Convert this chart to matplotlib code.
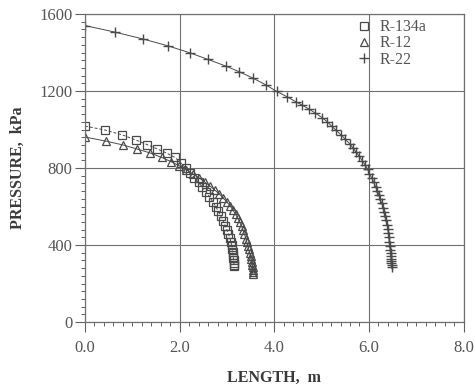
import matplotlib
matplotlib.use('Agg')
import matplotlib.pyplot as plt
from matplotlib.ticker import MultipleLocator, FormatStrFormatter

# R-134a (squares)
len_134a = [0.00, 0.43, 0.79, 1.07, 1.32, 1.53, 1.73, 1.90, 2.02, 2.13, 2.22, 2.31,
            2.40, 2.48, 2.56, 2.63, 2.70, 2.76, 2.82, 2.87, 2.92, 2.96, 3.00, 3.03,
            3.06, 3.08, 3.10, 3.11, 3.12, 3.13, 3.135, 3.14, 3.145, 3.15, 3.15]
p_134a = [1018, 997, 972, 946, 921, 899, 877, 855, 828, 800, 775, 750,
          725, 700, 675, 650, 625, 600, 575, 550, 525, 500, 478, 458,
          438, 418, 398, 380, 362, 346, 332, 320, 308, 298, 290]

# R-12 (triangles)
len_12 = [0.00, 0.44, 0.80, 1.10, 1.38, 1.62, 1.82, 1.99, 2.14, 2.28, 2.41, 2.53,
          2.64, 2.74, 2.84, 2.92, 3.00, 3.07, 3.13, 3.18, 3.23, 3.27, 3.31, 3.34,
          3.37, 3.40, 3.42, 3.44, 3.46, 3.48, 3.50, 3.51, 3.52, 3.53, 3.54, 3.545,
          3.55, 3.55]
p_12 = [961, 940, 920, 899, 878, 855, 833, 812, 791, 770, 749, 728,
        707, 686, 665, 644, 623, 602, 581, 560, 539, 518, 497, 476,
        455, 434, 414, 396, 378, 360, 343, 327, 312, 298, 285, 273,
        262, 252]

# R-22 (plus)
len_22 = [0.00, 0.63, 1.23, 1.76, 2.22, 2.60, 2.97, 3.26, 3.55, 3.82, 4.05, 4.27,
          4.45, 4.58, 4.74, 4.87, 5.01, 5.12, 5.21, 5.31, 5.41, 5.50, 5.59, 5.66,
          5.73, 5.80, 5.86, 5.92, 5.97, 6.01, 6.06, 6.10, 6.14, 6.18, 6.21, 6.24,
          6.27, 6.30, 6.32, 6.34, 6.36, 6.38, 6.40, 6.41, 6.42, 6.43, 6.44, 6.45,
          6.46, 6.465, 6.47, 6.47, 6.475, 6.48, 6.48]
p_22 = [1540, 1506, 1470, 1434, 1398, 1364, 1330, 1300, 1267, 1232, 1198, 1170,
        1145, 1128, 1105, 1085, 1062, 1040, 1018, 995, 972, 950, 927, 905,
        882, 860, 838, 815, 793, 770, 748, 726, 704, 682, 660, 638,
        616, 594, 572, 550, 528, 506, 484, 462, 440, 418, 396, 376,
        358, 342, 328, 316, 305, 296, 288]

plt.rcParams['font.family'] = ['Liberation Serif', 'DejaVu Serif']

fig = plt.figure(figsize=(4.75, 3.89), dpi=100)
ax = fig.add_axes([0.179, 0.172, 0.797, 0.792])

mc = '#4a4a4a'
ax.plot(len_134a, p_134a, color=mc, lw=0.7, ls=(0, (3, 2)), marker='s', ms=5.5,
        mfc='none', mec=mc, mew=0.9, label='R-134a')
ax.plot(len_12, p_12, color=mc, lw=0.7, marker='^', ms=5.5,
        mfc='none', mec=mc, mew=0.9, label='R-12')
ax.plot(len_22, p_22, color=mc, lw=0.7, marker='+', ms=7,
        mec=mc, mew=1.0, label='R-22')

ax.set_xlim(0, 8)
ax.set_ylim(0, 1600)
ax.xaxis.set_major_locator(MultipleLocator(2))
ax.xaxis.set_minor_locator(MultipleLocator(0.2))
ax.yaxis.set_major_locator(MultipleLocator(400))
ax.yaxis.set_minor_locator(MultipleLocator(40))
ax.xaxis.set_major_formatter(FormatStrFormatter('%.1f'))

ax.grid(True, which='major', color='#707070', lw=0.8)
ax.tick_params(which='major', direction='out', length=7, width=0.8,
               color='#606060', labelcolor='#555555', labelsize=12)
ax.tick_params(which='minor', direction='out', length=3, width=0.7, color='#606060')
ax.tick_params(axis='x', pad=6)
ax.tick_params(axis='y', pad=2)
for s in ax.spines.values():
    s.set_color('#707070')
    s.set_linewidth(0.9)

ax.set_xlabel('LENGTH,  m', fontsize=11.5, fontweight='bold', color='#3a3a3a', labelpad=10)
ax.set_ylabel('PRESSURE,  kPa', fontsize=11.5, fontweight='bold', color='#3a3a3a', labelpad=10)

leg = ax.legend(loc='upper right', bbox_to_anchor=(0.94, 1.03), frameon=False,
                handlelength=1.0, handletextpad=0.5, labelspacing=0.02,
                fontsize=11.5)
for line in leg.get_lines():
    line.set_linestyle('none')
for t in leg.get_texts():
    t.set_color('#555555')

fig.savefig('out.png', dpi=100, facecolor='white')
